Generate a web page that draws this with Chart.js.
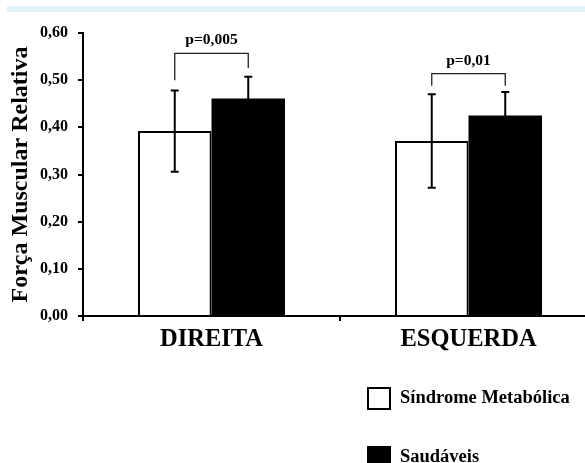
<!DOCTYPE html>
<html>
<head>
<meta charset="utf-8">
<script src="https://cdn.jsdelivr.net/npm/chart.js@4.4.1/dist/chart.umd.min.js"></script>
<style>
  html, body { margin: 0; padding: 0; background: #fff; overflow: hidden; }
  #wrap { position: absolute; left: 0; top: 0; width: 600px; height: 463px; }
</style>
</head>
<body>
<div id="wrap"><canvas id="forcaChart" width="600" height="463"></canvas></div>
<script>
// categories and series
const sides = ['DIREITA', 'ESQUERDA'];
const groupNames = ['Síndrome Metabólica', 'Saudáveis'];
const sindromeMean = [0.392, 0.371];
const sindromeSD = [0.086, 0.099];
const saudaveisMean = [0.461, 0.425];
const saudaveisSD = [0.046, 0.050];

// significance brackets
const pLabels = ['p=0,005', 'p=0,01'];
const bracketTop = [0.557, 0.514];
const bracketLeftEnd = [0.500, 0.488];
const bracketRightEnd = [0.526, 0.488];

const serif = "'Liberation Serif', 'Times New Roman', serif";
Chart.defaults.font.family = serif;
Chart.defaults.color = '#000';

// light blue strip at the top of the picture
const topStrip = {
    id: 'topStrip',
    beforeDraw(chart) {
        const ctx = chart.ctx;
        ctx.save();
        ctx.fillStyle = '#e0f3fa';
        ctx.fillRect(7, 6, 593, 6);
        ctx.restore();
    }
};

// error bars: mean + / - SD
const errorBars = {
    id: 'errorBars',
    afterDatasetsDraw(chart) {
        const ctx = chart.ctx;
        const y = chart.scales.y;
        const sds = [sindromeSD, saudaveisSD];
        ctx.save();
        ctx.strokeStyle = '#000';
        ctx.lineWidth = 2;
        chart.data.datasets.forEach((ds, di) => {
            chart.getDatasetMeta(di).data.forEach((bar, i) => {
                const top = y.getPixelForValue(ds.data[i] + sds[di][i]);
                const bot = y.getPixelForValue(ds.data[i] - sds[di][i]);
                ctx.beginPath();
                ctx.moveTo(bar.x, top); ctx.lineTo(bar.x, bot);
                ctx.moveTo(bar.x - 4, top); ctx.lineTo(bar.x + 4, top);
                ctx.moveTo(bar.x - 4, bot); ctx.lineTo(bar.x + 4, bot);
                ctx.stroke();
            });
        });
        ctx.restore();
    }
};

// brackets with p values
const brackets = {
    id: 'brackets',
    afterDatasetsDraw(chart) {
        const ctx = chart.ctx;
        const y = chart.scales.y;
        const left = chart.getDatasetMeta(0).data;
        const right = chart.getDatasetMeta(1).data;
        ctx.save();
        ctx.strokeStyle = '#222';
        ctx.lineWidth = 1.3;
        ctx.fillStyle = '#000';
        ctx.font = 'bold 15.5px ' + serif;
        ctx.textAlign = 'center';
        ctx.textBaseline = 'middle';
        pLabels.forEach((lab, i) => {
            const x1 = left[i].x, x2 = right[i].x;
            const yt = y.getPixelForValue(bracketTop[i]);
            ctx.beginPath();
            ctx.moveTo(x1, y.getPixelForValue(bracketLeftEnd[i]));
            ctx.lineTo(x1, yt);
            ctx.lineTo(x2, yt);
            ctx.lineTo(x2, y.getPixelForValue(bracketRightEnd[i]));
            ctx.stroke();
            ctx.fillText(lab, (x1 + x2) / 2, yt - 13);
        });
        ctx.restore();
    }
};

// legend stacked at the bottom right
const sideLegend = {
    id: 'sideLegend',
    afterDraw(chart) {
        const ctx = chart.ctx;
        ctx.save();
        ctx.font = 'bold 18.5px ' + serif;
        ctx.textBaseline = 'middle';
        ctx.textAlign = 'left';
        chart.data.datasets.forEach((ds, i) => {
            const top = 387 + i * 59;
            ctx.fillStyle = ds.backgroundColor;
            ctx.fillRect(367, top, 24, 23);
            ctx.strokeStyle = '#000';
            ctx.lineWidth = 2;
            ctx.strokeRect(368, top + 1, 22, 21);
            ctx.fillStyle = '#000';
            ctx.fillText(ds.label, 400, top + 11);
        });
        ctx.restore();
    }
};

new Chart(document.getElementById('forcaChart'), {
    type: 'bar',
    data: {
        labels: sides,
        datasets: [
            {
                label: groupNames[0],
                data: sindromeMean,
                backgroundColor: '#ffffff',
                borderColor: '#000',
                borderWidth: 2,
                categoryPercentage: 0.572,
                barPercentage: 1.0
            },
            {
                label: groupNames[1],
                data: saudaveisMean,
                backgroundColor: '#000000',
                borderColor: '#000',
                borderWidth: 0,
                categoryPercentage: 0.572,
                barPercentage: 1.0
            }
        ]
    },
    options: {
        responsive: false,
        animation: false,
        layout: { padding: { top: 33, right: 3, left: 0, bottom: 107 } },
        plugins: {
            legend: { display: false },
            tooltip: { enabled: false }
        },
        scales: {
            x: {
                afterFit(scale) { scale.height = 40; },
                border: { display: true, color: '#000', width: 2 },
                grid: { offset: true, drawOnChartArea: false, color: '#000', lineWidth: 2, tickLength: 5 },
                ticks: { font: { size: 24.5, weight: 'bold' }, padding: 4, color: '#000' }
            },
            y: {
                min: 0,
                max: 0.6,
                afterFit(scale) { scale.width = 83; },
                border: { display: true, color: '#000', width: 2 },
                grid: { drawOnChartArea: false, color: '#000', lineWidth: 2, tickLength: 5 },
                ticks: {
                    stepSize: 0.1,
                    padding: 10,
                    font: { size: 16, weight: 'bold' },
                    color: '#000',
                    callback: v => v.toFixed(2).replace('.', ',')
                },
                title: {
                    display: true,
                    text: 'Força Muscular Relativa',
                    font: { size: 24, weight: 'bold' },
                    color: '#000',
                    padding: { top: 6, bottom: 0 }
                }
            }
        }
    },
    plugins: [topStrip, errorBars, brackets, sideLegend]
});
</script>
</body>
</html>
